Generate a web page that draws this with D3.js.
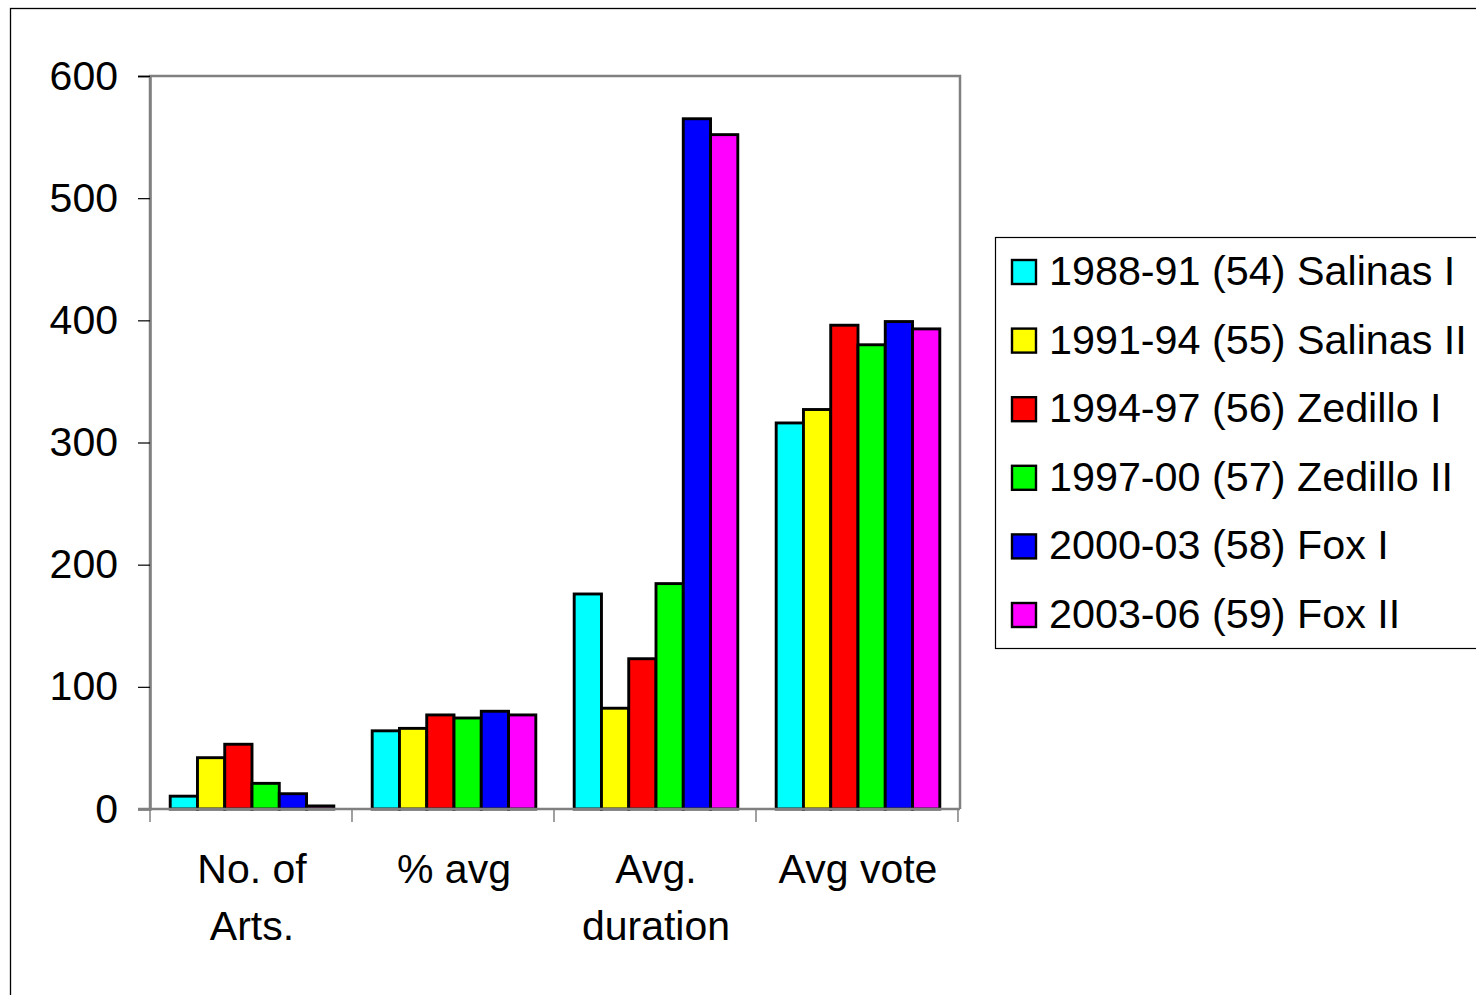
<!DOCTYPE html>
<html><head><meta charset="utf-8">
<script src="https://cdn.jsdelivr.net/npm/d3@7"></script>
<style>body{margin:0;background:#fff;} svg{display:block;font-family:"Liberation Sans",Arial,sans-serif;}</style>
</head><body>
<script>
const categories = [["No. of","Arts."],["% avg"],["Avg.","duration"],["Avg vote"]];
const seriesNames = ["1988-91 (54) Salinas I","1991-94 (55) Salinas II","1994-97 (56) Zedillo I","1997-00 (57) Zedillo II","2000-03 (58) Fox I","2003-06 (59) Fox II"];
const seriesColors = ["#00ffff","#ffff00","#ff0000","#00ff00","#0000ff","#ff00ff"];
const values = [
  [10.5, 64, 176, 316],
  [42, 66, 82.5, 327],
  [53, 77, 123, 396],
  [21, 74.5, 184.5, 380],
  [12.5, 80, 565, 399],
  [2.5, 77, 552, 393]
];
const yTicks = [0,100,200,300,400,500,600];

const W=1476,H=995;
const svg=d3.select("body").append("svg").attr("width",W).attr("height",H);
svg.append("rect").attr("x",10.5).attr("y",8.5).attr("width",W+20).attr("height",H+20).attr("fill","#fff").attr("stroke","#000").attr("stroke-width",1.3);

const L=150,R=960,T=76,B=809;
const catIdx=categories.map((d,i)=>i);
const x0=d3.scaleBand().domain(catIdx).range([L,R]).paddingInner(0.19).paddingOuter(0.1);
const x1=d3.scaleBand().domain(seriesNames.map((d,i)=>i)).range([0,x0.bandwidth()]).padding(0);
const y=d3.scaleLinear().domain([0,600]).range([B,T]);

// plot border
svg.append("path").attr("d",`M${L},${B}V${T}H${R}V${B}`).attr("fill","none").attr("stroke","#808080").attr("stroke-width",2.5);

// bars
catIdx.forEach(ci=>{
  const g=svg.append("g").attr("transform",`translate(${x0(ci)},0)`);
  seriesNames.forEach((s,si)=>{
    const v=values[si][ci];
    g.append("rect").attr("x",x1(si)).attr("y",y(v)).attr("width",x1.bandwidth()).attr("height",B-y(v))
     .attr("fill",seriesColors[si]).attr("stroke","#000").attr("stroke-width",2.9);
  });
});

// y axis
const ya=svg.append("g").attr("transform",`translate(${L},0)`).call(d3.axisLeft(y).tickValues(yTicks).tickSize(12).tickPadding(20));
ya.select(".domain").attr("stroke","#808080").attr("stroke-width",2.5);
ya.selectAll(".tick line").attr("stroke","#000").attr("stroke-width",1.2);
ya.selectAll(".tick text").attr("font-size",41).attr("fill","#000").attr("font-family","Liberation Sans, Arial, sans-serif");

// x axis line & boundary ticks
svg.append("line").attr("x1",L-12).attr("x2",R).attr("y1",B).attr("y2",B).attr("stroke","#808080").attr("stroke-width",2.5);
const step=x0.step();
d3.range(categories.length+1).forEach(i=>{
  const xx=L+i*step;
  svg.append("line").attr("x1",xx).attr("x2",xx).attr("y1",B).attr("y2",B+13).attr("stroke","#808080").attr("stroke-width",1.5);
});
// category labels
catIdx.forEach(ci=>{
  const cx=x0(ci)+x0.bandwidth()/2;
  const t=svg.append("text").attr("text-anchor","middle").attr("font-size",41).attr("fill","#000");
  categories[ci].forEach((line,li)=>{
    t.append("tspan").attr("x",cx).attr("y",883+li*57).text(line);
  });
});

// legend
const lg=svg.append("g");
lg.append("rect").attr("x",995.5).attr("y",237.5).attr("width",520).attr("height",411).attr("fill","#fff").attr("stroke","#000").attr("stroke-width",1.2);
seriesNames.forEach((s,si)=>{
  const cy=272+si*68.6;
  lg.append("rect").attr("x",1012).attr("y",cy-12).attr("width",24).attr("height",24).attr("fill",seriesColors[si]).attr("stroke","#000").attr("stroke-width",2.4);
  lg.append("text").attr("x",1049).attr("y",cy+13).attr("font-size",41.3).attr("fill","#000").text(s);
});
</script>
</body></html>
